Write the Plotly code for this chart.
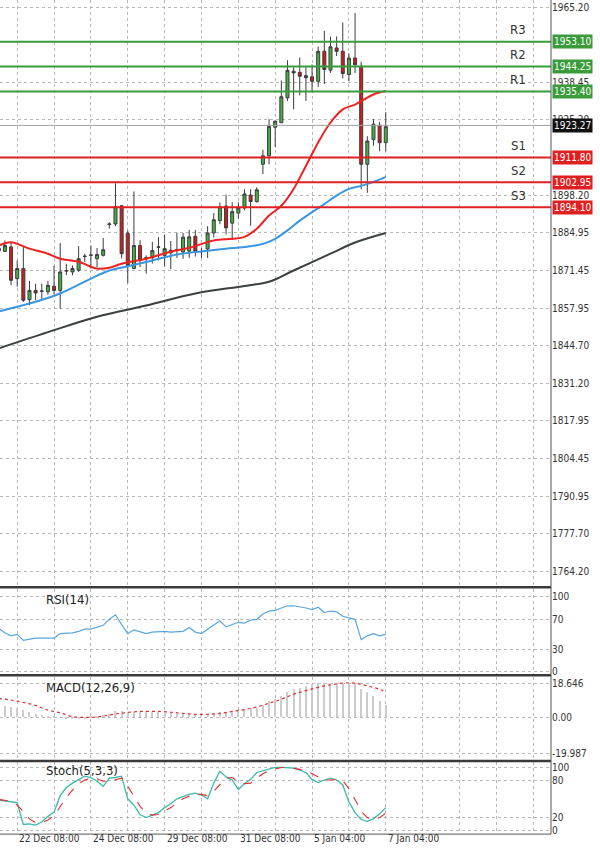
import plotly.graph_objects as go

W, H = 600, 861

# candles (bar index 0..63)
OPEN = [1879.5, 1878.3, 1879.9, 1868.6, 1872.2, 1861.1, 1864.4, 1864.1, 1863.9, 1865.9,
        1864.4, 1871.3, 1871.0, 1871.6, 1876.5, 1876.9, 1875.7, 1876.9, 1887.9, 1888.1,
        1894.6, 1884.8, 1872.2, 1880.4, 1876.0, 1876.0, 1879.8, 1876.9, 1877.8, 1878.9,
        1878.1, 1878.4, 1883.7, 1878.2, 1879.2, 1884.9, 1889.3, 1894.5, 1888.4, 1892.0,
        1893.8, 1898.4, 1896.1, 1909.4, 1912.4, 1922.6, 1924.2, 1933.1, 1942.6, 1942.2,
        1941.0, 1940.6, 1939.0, 1949.7, 1943.0, 1950.9, 1949.7, 1941.4, 1947.3, 1944.4,
        1909.4, 1918.2, 1923.3, 1917.1]
CLOSE = [1878.5, 1880.4, 1868.0, 1872.2, 1860.9, 1864.4, 1863.5, 1864.2, 1866.2, 1864.4,
         1871.0, 1871.4, 1872.2, 1875.7, 1876.6, 1877.0, 1877.2, 1878.9, 1888.1, 1894.3,
         1877.5, 1873.3, 1880.4, 1875.4, 1876.1, 1878.6, 1879.9, 1879.3, 1878.7, 1879.0,
         1883.4, 1883.5, 1878.2, 1878.3, 1884.9, 1889.6, 1894.2, 1886.7, 1892.5, 1893.8,
         1898.8, 1896.1, 1900.3, 1912.4, 1922.9, 1924.8, 1933.5, 1942.9, 1942.0, 1940.8,
         1940.3, 1939.0, 1949.7, 1943.2, 1951.3, 1949.7, 1941.8, 1947.3, 1944.9, 1909.4,
         1917.7, 1923.7, 1917.1, 1922.8]
HIGH = [1882.0, 1882.2, 1881.6, 1875.1, 1879.9, 1867.8, 1866.8, 1866.8, 1867.8, 1873.2,
        1881.3, 1873.9, 1873.3, 1880.2, 1877.5, 1880.4, 1879.5, 1883.1, 1888.7, 1902.6,
        1894.9, 1885.8, 1899.7, 1882.3, 1876.9, 1881.7, 1883.4, 1884.2, 1882.0, 1885.0,
        1884.9, 1886.0, 1886.0, 1879.5, 1887.3, 1892.0, 1895.8, 1898.6, 1895.8, 1895.8,
        1900.5, 1900.5, 1901.2, 1914.6, 1925.5, 1924.8, 1939.3, 1946.5, 1944.0, 1947.5,
        1944.0, 1945.0, 1951.4, 1957.0, 1955.0, 1955.0, 1960.0, 1949.0, 1963.3, 1946.0,
        1919.4, 1925.5, 1924.5, 1928.0]
LOW = [1877.0, 1878.1, 1866.2, 1865.7, 1860.3, 1859.1, 1860.9, 1861.3, 1862.8, 1863.0,
       1857.8, 1869.8, 1869.8, 1871.0, 1874.5, 1872.2, 1872.7, 1876.5, 1886.4, 1887.3,
       1875.8, 1867.0, 1872.0, 1872.7, 1870.4, 1874.0, 1875.1, 1873.0, 1872.0, 1876.0,
       1875.7, 1876.0, 1876.5, 1876.0, 1876.0, 1883.3, 1888.0, 1884.3, 1882.4, 1890.0,
       1893.0, 1887.5, 1895.7, 1905.9, 1909.4, 1915.5, 1924.2, 1932.0, 1929.0, 1934.0,
       1932.0, 1935.0, 1937.0, 1938.0, 1942.0, 1948.0, 1940.0, 1939.0, 1942.0, 1900.5,
       1899.2, 1916.0, 1914.0, 1914.0]

# moving averages, sampled at bar indices
MA_RED_X = [0, 2, 5, 8, 10, 13, 16, 18, 20, 24, 28, 31, 35, 38, 40, 42, 44, 46, 48, 50, 52, 54, 56, 58, 59, 61, 63]
MA_RED = [1880.4, 1881.6, 1879.3, 1877.5, 1875.7, 1874.6, 1872.2, 1872.5, 1873.9, 1875.7, 1878.2, 1879.6,
          1882.2, 1882.8, 1883.5, 1886.4, 1891.1, 1894.6, 1900.6, 1908.8, 1917.2, 1924.3, 1929.0, 1930.7,
          1931.9, 1934.3, 1935.5]
MA_BLUE_X = [0, 5, 10, 15, 18, 21, 25, 29, 32, 33, 37, 40, 43, 45, 47, 49, 51, 53, 55, 57, 59, 61, 63]
MA_BLUE = [1856.9, 1859.7, 1863.3, 1868.6, 1871.5, 1873.0, 1875.1, 1877.2, 1878.1, 1878.3, 1879.3, 1879.9,
           1881.0, 1882.8, 1885.8, 1889.3, 1892.3, 1895.2, 1898.2, 1900.6, 1901.7, 1903.1, 1904.9]
MA_GREY_X = [0, 8, 16, 24, 32, 40, 44, 48, 54, 58, 63]
MA_GREY = [1843.7, 1849.5, 1855.0, 1859.0, 1863.3, 1866.0, 1867.5, 1871.5, 1877.5, 1881.5, 1884.9]

RES = [("R3", 1953.10), ("R2", 1944.25), ("R1", 1935.40)]
SUP = [("S1", 1911.80), ("S2", 1902.95), ("S3", 1894.10)]
LAST = 1923.27
PRICE_TICKS = [1965.20, 1938.45, 1925.20, 1898.20, 1884.95, 1871.45, 1857.95,
               1844.70, 1831.20, 1817.95, 1804.45, 1790.95, 1777.70, 1764.20]

RSI = [58, 52, 48, 50, 42, 44, 45, 45, 45, 45, 51, 51, 52, 54, 57, 57, 60, 62, 70, 76,
       63, 51, 56, 54, 51, 53, 54, 54, 53, 53, 54, 59, 53, 51, 57, 63, 68, 60, 63, 66,
       65, 69, 70, 77, 81, 82, 85, 88, 88, 87, 85, 83, 86, 79, 81, 80, 74, 72, 70, 43,
       48, 51, 48, 50]
MACD_HIST = [7, 6.5, 6, 5, 4, 3, 2, 1.5, 1, 0.5, 0, -0.3, -0.5, -0.5, -0.3, 0.3, 1, 1.5, 2.2, 3.5,
             3.5, 3, 3.2, 3.3, 3.4, 3, 2.8, 2.6, 2.4, 2.2, 2, 2, 1.8, 1.8, 2, 2.5, 3, 3, 3.5, 4,
             4.5, 5, 5.5, 7, 9, 10.5, 12, 14, 15.5, 16.5, 17.5, 18.5, 19, 19, 19.3, 19.3, 19.3, 19, 18.5, 16,
             14, 12, 9, 7]
SIG_X = [0, 2, 4, 6, 8, 10, 12, 14, 16, 18, 20, 22, 24, 26, 28, 30, 32, 34, 36, 38, 40, 42, 44, 46, 48,
         50, 52, 54, 56, 58, 60, 62, 63]
MACD_SIG = [10.4, 9.6, 8.2, 6.6, 4.0, 2.5, 0.4, 0, 0.2, 1.3, 2.3, 3.1, 3.3, 3.3, 2.8, 2.2, 1.7, 1.7, 2.2,
            3.3, 4.3, 5.7, 7.8, 10, 12.8, 14.8, 16.6, 18.0, 18.9, 18.9, 17.4, 15.5, 13.9]
STOCH_K = [48, 47, 45, 44, 9, 10, 8, 13, 22, 29, 55, 68, 75, 80, 86, 84, 78, 70, 83, 84,
           86, 50, 40, 25, 20, 24, 28, 36, 42, 50, 54, 57, 59, 56, 50, 75, 94, 85, 80, 65,
           74, 81, 92, 95, 98, 100, 100, 100, 99, 96, 92, 81, 76, 80, 83, 80, 72, 45, 28, 17,
           14, 18, 26, 36]
STOCH_D = [49, 48, 46, 40, 30, 18, 12, 12, 16, 23, 38, 52, 64, 74, 80, 83, 82, 78, 78, 80,
           83, 70, 55, 38, 28, 24, 25, 30, 36, 43, 50, 54, 57, 57, 55, 62, 72, 83, 84, 77,
           74, 75, 83, 90, 95, 98, 100, 100, 99, 97, 95, 90, 84, 80, 80, 81, 79, 66, 49, 30,
           20, 17, 20, 27]
XLABELS = [(3, "22 Dec 08:00"), (15, "24 Dec 08:00"), (27, "29 Dec 08:00"), (39, "31 Dec 08:00"),
           (51, "5 Jan 04:00"), (63, "7 Jan 04:00")]

bars = list(range(len(OPEN)))
GREEN, RED = "#3a9b3a", "#e02020"
FONT = "DejaVu Sans Condensed, Liberation Sans Narrow, Arial Narrow, sans-serif"

def py(y):  # pixel row -> paper
    return 1 - y / H

fig = go.Figure()
fig.add_trace(go.Candlestick(x=bars, open=OPEN, high=HIGH, low=LOW, close=CLOSE, xaxis="x", yaxis="y",
                             increasing=dict(line=dict(color="#3c3c3c", width=1), fillcolor="#43b043"),
                             decreasing=dict(line=dict(color="#3c3c3c", width=1), fillcolor="#d01c1c"),
                             whiskerwidth=0, showlegend=False, hoverinfo="skip"))
fig.add_trace(go.Scatter(x=MA_RED_X, y=MA_RED, mode="lines", line=dict(color="#ee2222", width=2, shape="spline"),
                         xaxis="x", yaxis="y", showlegend=False))
fig.add_trace(go.Scatter(x=MA_BLUE_X, y=MA_BLUE, mode="lines", line=dict(color="#3a96e0", width=2, shape="spline"),
                         xaxis="x", yaxis="y", showlegend=False))
fig.add_trace(go.Scatter(x=MA_GREY_X, y=MA_GREY, mode="lines", line=dict(color="#3a3f3f", width=2, shape="spline"),
                         xaxis="x", yaxis="y", showlegend=False))
fig.add_trace(go.Scatter(x=bars, y=RSI, mode="lines", line=dict(color="#5aa6e0", width=1.2),
                         xaxis="x2", yaxis="y2", showlegend=False))
fig.add_trace(go.Bar(x=bars, y=MACD_HIST, marker=dict(color="#cccccc", line=dict(width=0)), width=0.2,
                     xaxis="x3", yaxis="y3", showlegend=False))
fig.add_trace(go.Scatter(x=SIG_X, y=MACD_SIG, mode="lines", line=dict(color="#e03030", width=1.2, dash="dot", shape="spline"),
                         xaxis="x3", yaxis="y3", showlegend=False))
fig.add_trace(go.Scatter(x=bars, y=STOCH_K, mode="lines", line=dict(color="#3cb8a8", width=1.3),
                         xaxis="x4", yaxis="y4", showlegend=False))
fig.add_trace(go.Scatter(x=bars, y=STOCH_D, mode="lines", line=dict(color="#e03030", width=1.1, dash="dash"),
                         xaxis="x4", yaxis="y4", showlegend=False))

XR = [0.2, 89.9]
vgrid = list(range(3, 90, 6))
xbase = dict(range=XR, tickvals=vgrid, showticklabels=False, showgrid=True, gridcolor="#b8b8b8",
             griddash="dot", gridwidth=1, zeroline=False, fixedrange=True, domain=[0, 551 / W])
ybase = dict(side="right", showgrid=True, gridcolor="#b8b8b8", griddash="dot", zeroline=False,
             tickfont=dict(family=FONT, size=10, color="#333"), ticks="", ticklen=0)

fig.update_layout(
    width=W, height=H, margin=dict(l=0, r=0, t=0, b=0), paper_bgcolor="white", plot_bgcolor="white",
    bargap=0, font=dict(family=FONT),
    xaxis=dict(xbase, anchor="y", rangeslider=dict(visible=False)),
    xaxis2=dict(xbase, anchor="y2", matches="x"),
    xaxis3=dict(xbase, anchor="y3", matches="x"),
    xaxis4=dict(xbase, anchor="y4", matches="x"),
    yaxis=dict(ybase, domain=[py(590), 1], range=[1758.5, 1968.0], tickvals=PRICE_TICKS,
               ticktext=[f"{v:.2f}" for v in PRICE_TICKS]),
    yaxis2=dict(ybase, domain=[py(677), py(592)], range=[-2.6, 110], tickvals=[0, 30, 70, 100]),
    yaxis3=dict(ybase, domain=[py(763), py(680)], range=[-23.3, 22.4], tickvals=[-19.987, 0, 18.646],
                ticktext=["-19.987", "0.00", "18.646"]),
    yaxis4=dict(ybase, domain=[py(838), py(766)], range=[-6.3, 108], tickvals=[0, 20, 80, 100]),
)

shapes, ann = [], []
for name, v in RES + SUP:
    col = GREEN if name.startswith("R") else RED
    shapes.append(dict(type="line", xref="paper", yref="y", x0=0, x1=551 / W, y0=v, y1=v,
                       line=dict(color=col, width=2)))
    ann.append(dict(xref="paper", yref="y", x=552 / W, y=v, text=f"{v:.2f}", showarrow=False, xanchor="left",
                    font=dict(size=10, color="white", family=FONT), bgcolor=col, borderpad=1))
    ann.append(dict(xref="paper", yref="y", x=528 / W, y=v, yshift=12, text=name, showarrow=False,
                    font=dict(size=13, color="#333", family=FONT)))
shapes.append(dict(type="line", xref="paper", yref="y", x0=0, x1=551 / W, y0=LAST, y1=LAST,
                   line=dict(color="#a0a0a0", width=1)))
ann.append(dict(xref="paper", yref="y", x=552 / W, y=LAST, text=f"{LAST:.2f}", showarrow=False, xanchor="left",
                font=dict(size=10, color="white", family=FONT), bgcolor="#111", borderpad=1))

# panel frames
for y in (590, 678.5, 764.5):
    shapes.append(dict(type="line", xref="paper", yref="paper", x0=0, x1=551 / W, y0=py(y), y1=py(y),
                       line=dict(color="#3a3a3a", width=2.5)))
shapes.append(dict(type="line", xref="paper", yref="paper", x0=0, x1=551 / W, y0=py(838), y1=py(838),
                   line=dict(color="#555", width=1)))
shapes.append(dict(type="line", xref="paper", yref="paper", x0=551 / W, x1=551 / W, y0=py(838), y1=1,
                   line=dict(color="#555", width=1)))

for txt, y in (("RSI(14)", 612), ("MACD(12,26,9)", 700), ("Stoch(5,3,3)", 784)):
    ann.append(dict(xref="paper", yref="paper", x=44 / W, y=py(y), text=txt, showarrow=False, xanchor="left",
                    font=dict(size=13, color="#222", family=FONT)))
for k, txt in XLABELS:
    ann.append(dict(xref="x4", yref="paper", x=k, y=py(850), text=txt, showarrow=False, xanchor="left",
                    font=dict(size=10, color="#333", family=FONT)))

fig.update_layout(shapes=shapes, annotations=ann)
fig.write_html("out.html", config=dict(displayModeBar=False),
               post_script="document.body.style.margin='0';document.body.style.overflow='hidden';")
